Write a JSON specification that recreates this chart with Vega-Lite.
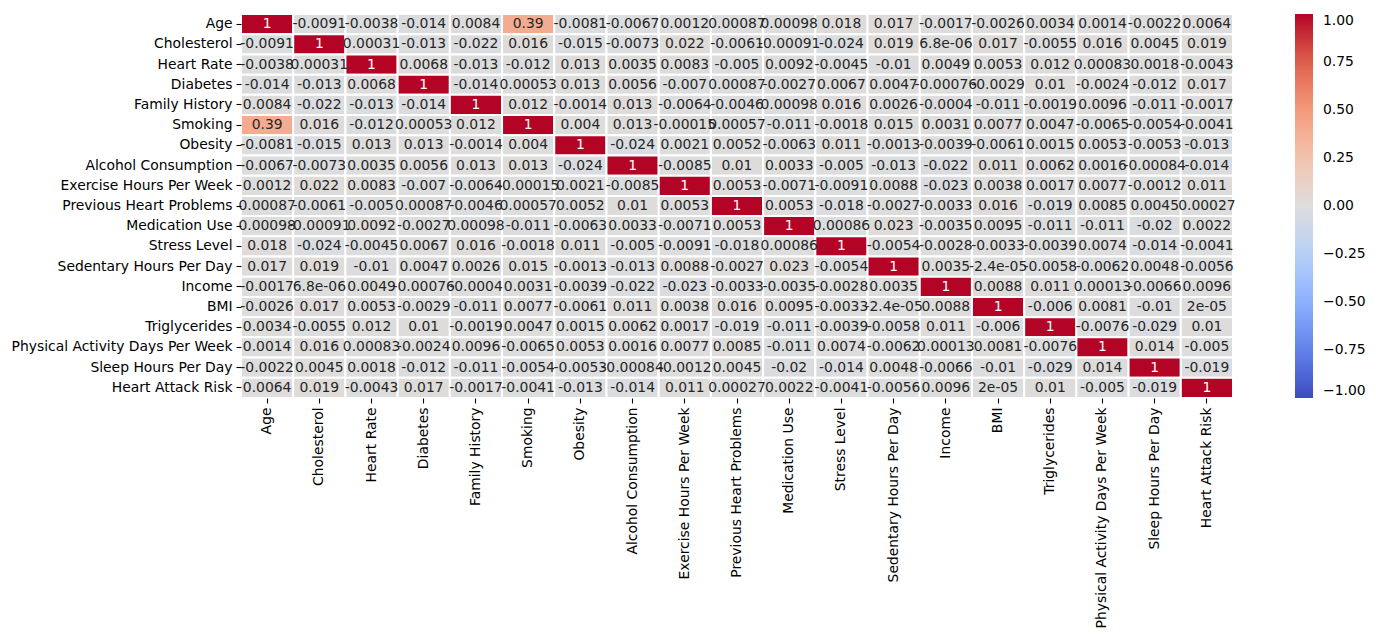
{
  "$schema": "https://vega.github.io/schema/vega-lite/v6.json",
  "autosize": {"type": "none"},
  "padding": {"left": 241, "top": 14, "right": 143, "bottom": 243},
  "width": 992,
  "height": 384,
  "background": "white",
  "config": {
    "view": {"stroke": null},
    "axis": {"labelFont": "DejaVu Sans", "labelFontSize": 13.9, "labelColor": "black", "labelLimit": 400, "tickColor": "black", "tickWidth": 1.1, "tickSize": 5, "labelPadding": 4, "domain": false, "grid": false, "title": null},
    "legend": {"labelFont": "DejaVu Sans", "labelFontSize": 13.9, "labelColor": "black"}
  },
  "data": {"values": [
{"y":"Age","x":"Age","v":1,"t":"1"},{"y":"Age","x":"Cholesterol","v":-0.0091,"t":"-0.0091"},{"y":"Age","x":"Heart Rate","v":-0.0038,"t":"-0.0038"},{"y":"Age","x":"Diabetes","v":-0.014,"t":"-0.014"},{"y":"Age","x":"Family History","v":0.0084,"t":"0.0084"},{"y":"Age","x":"Smoking","v":0.39,"t":"0.39"},{"y":"Age","x":"Obesity","v":-0.0081,"t":"-0.0081"},{"y":"Age","x":"Alcohol Consumption","v":-0.0067,"t":"-0.0067"},{"y":"Age","x":"Exercise Hours Per Week","v":0.0012,"t":"0.0012"},{"y":"Age","x":"Previous Heart Problems","v":0.00087,"t":"0.00087"},{"y":"Age","x":"Medication Use","v":0.00098,"t":"0.00098"},{"y":"Age","x":"Stress Level","v":0.018,"t":"0.018"},{"y":"Age","x":"Sedentary Hours Per Day","v":0.017,"t":"0.017"},{"y":"Age","x":"Income","v":-0.0017,"t":"-0.0017"},{"y":"Age","x":"BMI","v":-0.0026,"t":"-0.0026"},{"y":"Age","x":"Triglycerides","v":0.0034,"t":"0.0034"},{"y":"Age","x":"Physical Activity Days Per Week","v":0.0014,"t":"0.0014"},{"y":"Age","x":"Sleep Hours Per Day","v":-0.0022,"t":"-0.0022"},{"y":"Age","x":"Heart Attack Risk","v":0.0064,"t":"0.0064"},
{"y":"Cholesterol","x":"Age","v":-0.0091,"t":"-0.0091"},{"y":"Cholesterol","x":"Cholesterol","v":1,"t":"1"},{"y":"Cholesterol","x":"Heart Rate","v":0.00031,"t":"0.00031"},{"y":"Cholesterol","x":"Diabetes","v":-0.013,"t":"-0.013"},{"y":"Cholesterol","x":"Family History","v":-0.022,"t":"-0.022"},{"y":"Cholesterol","x":"Smoking","v":0.016,"t":"0.016"},{"y":"Cholesterol","x":"Obesity","v":-0.015,"t":"-0.015"},{"y":"Cholesterol","x":"Alcohol Consumption","v":-0.0073,"t":"-0.0073"},{"y":"Cholesterol","x":"Exercise Hours Per Week","v":0.022,"t":"0.022"},{"y":"Cholesterol","x":"Previous Heart Problems","v":-0.0061,"t":"-0.0061"},{"y":"Cholesterol","x":"Medication Use","v":-0.00091,"t":"-0.00091"},{"y":"Cholesterol","x":"Stress Level","v":-0.024,"t":"-0.024"},{"y":"Cholesterol","x":"Sedentary Hours Per Day","v":0.019,"t":"0.019"},{"y":"Cholesterol","x":"Income","v":6.8e-6,"t":"6.8e-06"},{"y":"Cholesterol","x":"BMI","v":0.017,"t":"0.017"},{"y":"Cholesterol","x":"Triglycerides","v":-0.0055,"t":"-0.0055"},{"y":"Cholesterol","x":"Physical Activity Days Per Week","v":0.016,"t":"0.016"},{"y":"Cholesterol","x":"Sleep Hours Per Day","v":0.0045,"t":"0.0045"},{"y":"Cholesterol","x":"Heart Attack Risk","v":0.019,"t":"0.019"},
{"y":"Heart Rate","x":"Age","v":-0.0038,"t":"-0.0038"},{"y":"Heart Rate","x":"Cholesterol","v":0.00031,"t":"0.00031"},{"y":"Heart Rate","x":"Heart Rate","v":1,"t":"1"},{"y":"Heart Rate","x":"Diabetes","v":0.0068,"t":"0.0068"},{"y":"Heart Rate","x":"Family History","v":-0.013,"t":"-0.013"},{"y":"Heart Rate","x":"Smoking","v":-0.012,"t":"-0.012"},{"y":"Heart Rate","x":"Obesity","v":0.013,"t":"0.013"},{"y":"Heart Rate","x":"Alcohol Consumption","v":0.0035,"t":"0.0035"},{"y":"Heart Rate","x":"Exercise Hours Per Week","v":0.0083,"t":"0.0083"},{"y":"Heart Rate","x":"Previous Heart Problems","v":-0.005,"t":"-0.005"},{"y":"Heart Rate","x":"Medication Use","v":0.0092,"t":"0.0092"},{"y":"Heart Rate","x":"Stress Level","v":-0.0045,"t":"-0.0045"},{"y":"Heart Rate","x":"Sedentary Hours Per Day","v":-0.01,"t":"-0.01"},{"y":"Heart Rate","x":"Income","v":0.0049,"t":"0.0049"},{"y":"Heart Rate","x":"BMI","v":0.0053,"t":"0.0053"},{"y":"Heart Rate","x":"Triglycerides","v":0.012,"t":"0.012"},{"y":"Heart Rate","x":"Physical Activity Days Per Week","v":0.00083,"t":"0.00083"},{"y":"Heart Rate","x":"Sleep Hours Per Day","v":0.0018,"t":"0.0018"},{"y":"Heart Rate","x":"Heart Attack Risk","v":-0.0043,"t":"-0.0043"},
{"y":"Diabetes","x":"Age","v":-0.014,"t":"-0.014"},{"y":"Diabetes","x":"Cholesterol","v":-0.013,"t":"-0.013"},{"y":"Diabetes","x":"Heart Rate","v":0.0068,"t":"0.0068"},{"y":"Diabetes","x":"Diabetes","v":1,"t":"1"},{"y":"Diabetes","x":"Family History","v":-0.014,"t":"-0.014"},{"y":"Diabetes","x":"Smoking","v":0.00053,"t":"0.00053"},{"y":"Diabetes","x":"Obesity","v":0.013,"t":"0.013"},{"y":"Diabetes","x":"Alcohol Consumption","v":0.0056,"t":"0.0056"},{"y":"Diabetes","x":"Exercise Hours Per Week","v":-0.007,"t":"-0.007"},{"y":"Diabetes","x":"Previous Heart Problems","v":0.00087,"t":"0.00087"},{"y":"Diabetes","x":"Medication Use","v":-0.0027,"t":"-0.0027"},{"y":"Diabetes","x":"Stress Level","v":0.0067,"t":"0.0067"},{"y":"Diabetes","x":"Sedentary Hours Per Day","v":0.0047,"t":"0.0047"},{"y":"Diabetes","x":"Income","v":-0.00076,"t":"-0.00076"},{"y":"Diabetes","x":"BMI","v":-0.0029,"t":"-0.0029"},{"y":"Diabetes","x":"Triglycerides","v":0.01,"t":"0.01"},{"y":"Diabetes","x":"Physical Activity Days Per Week","v":-0.0024,"t":"-0.0024"},{"y":"Diabetes","x":"Sleep Hours Per Day","v":-0.012,"t":"-0.012"},{"y":"Diabetes","x":"Heart Attack Risk","v":0.017,"t":"0.017"},
{"y":"Family History","x":"Age","v":0.0084,"t":"0.0084"},{"y":"Family History","x":"Cholesterol","v":-0.022,"t":"-0.022"},{"y":"Family History","x":"Heart Rate","v":-0.013,"t":"-0.013"},{"y":"Family History","x":"Diabetes","v":-0.014,"t":"-0.014"},{"y":"Family History","x":"Family History","v":1,"t":"1"},{"y":"Family History","x":"Smoking","v":0.012,"t":"0.012"},{"y":"Family History","x":"Obesity","v":-0.0014,"t":"-0.0014"},{"y":"Family History","x":"Alcohol Consumption","v":0.013,"t":"0.013"},{"y":"Family History","x":"Exercise Hours Per Week","v":-0.0064,"t":"-0.0064"},{"y":"Family History","x":"Previous Heart Problems","v":-0.0046,"t":"-0.0046"},{"y":"Family History","x":"Medication Use","v":0.00098,"t":"0.00098"},{"y":"Family History","x":"Stress Level","v":0.016,"t":"0.016"},{"y":"Family History","x":"Sedentary Hours Per Day","v":0.0026,"t":"0.0026"},{"y":"Family History","x":"Income","v":-0.0004,"t":"-0.0004"},{"y":"Family History","x":"BMI","v":-0.011,"t":"-0.011"},{"y":"Family History","x":"Triglycerides","v":-0.0019,"t":"-0.0019"},{"y":"Family History","x":"Physical Activity Days Per Week","v":0.0096,"t":"0.0096"},{"y":"Family History","x":"Sleep Hours Per Day","v":-0.011,"t":"-0.011"},{"y":"Family History","x":"Heart Attack Risk","v":-0.0017,"t":"-0.0017"},
{"y":"Smoking","x":"Age","v":0.39,"t":"0.39"},{"y":"Smoking","x":"Cholesterol","v":0.016,"t":"0.016"},{"y":"Smoking","x":"Heart Rate","v":-0.012,"t":"-0.012"},{"y":"Smoking","x":"Diabetes","v":0.00053,"t":"0.00053"},{"y":"Smoking","x":"Family History","v":0.012,"t":"0.012"},{"y":"Smoking","x":"Smoking","v":1,"t":"1"},{"y":"Smoking","x":"Obesity","v":0.004,"t":"0.004"},{"y":"Smoking","x":"Alcohol Consumption","v":0.013,"t":"0.013"},{"y":"Smoking","x":"Exercise Hours Per Week","v":-0.00015,"t":"-0.00015"},{"y":"Smoking","x":"Previous Heart Problems","v":0.00057,"t":"0.00057"},{"y":"Smoking","x":"Medication Use","v":-0.011,"t":"-0.011"},{"y":"Smoking","x":"Stress Level","v":-0.0018,"t":"-0.0018"},{"y":"Smoking","x":"Sedentary Hours Per Day","v":0.015,"t":"0.015"},{"y":"Smoking","x":"Income","v":0.0031,"t":"0.0031"},{"y":"Smoking","x":"BMI","v":0.0077,"t":"0.0077"},{"y":"Smoking","x":"Triglycerides","v":0.0047,"t":"0.0047"},{"y":"Smoking","x":"Physical Activity Days Per Week","v":-0.0065,"t":"-0.0065"},{"y":"Smoking","x":"Sleep Hours Per Day","v":-0.0054,"t":"-0.0054"},{"y":"Smoking","x":"Heart Attack Risk","v":-0.0041,"t":"-0.0041"},
{"y":"Obesity","x":"Age","v":-0.0081,"t":"-0.0081"},{"y":"Obesity","x":"Cholesterol","v":-0.015,"t":"-0.015"},{"y":"Obesity","x":"Heart Rate","v":0.013,"t":"0.013"},{"y":"Obesity","x":"Diabetes","v":0.013,"t":"0.013"},{"y":"Obesity","x":"Family History","v":-0.0014,"t":"-0.0014"},{"y":"Obesity","x":"Smoking","v":0.004,"t":"0.004"},{"y":"Obesity","x":"Obesity","v":1,"t":"1"},{"y":"Obesity","x":"Alcohol Consumption","v":-0.024,"t":"-0.024"},{"y":"Obesity","x":"Exercise Hours Per Week","v":0.0021,"t":"0.0021"},{"y":"Obesity","x":"Previous Heart Problems","v":0.0052,"t":"0.0052"},{"y":"Obesity","x":"Medication Use","v":-0.0063,"t":"-0.0063"},{"y":"Obesity","x":"Stress Level","v":0.011,"t":"0.011"},{"y":"Obesity","x":"Sedentary Hours Per Day","v":-0.0013,"t":"-0.0013"},{"y":"Obesity","x":"Income","v":-0.0039,"t":"-0.0039"},{"y":"Obesity","x":"BMI","v":-0.0061,"t":"-0.0061"},{"y":"Obesity","x":"Triglycerides","v":0.0015,"t":"0.0015"},{"y":"Obesity","x":"Physical Activity Days Per Week","v":0.0053,"t":"0.0053"},{"y":"Obesity","x":"Sleep Hours Per Day","v":-0.0053,"t":"-0.0053"},{"y":"Obesity","x":"Heart Attack Risk","v":-0.013,"t":"-0.013"},
{"y":"Alcohol Consumption","x":"Age","v":-0.0067,"t":"-0.0067"},{"y":"Alcohol Consumption","x":"Cholesterol","v":-0.0073,"t":"-0.0073"},{"y":"Alcohol Consumption","x":"Heart Rate","v":0.0035,"t":"0.0035"},{"y":"Alcohol Consumption","x":"Diabetes","v":0.0056,"t":"0.0056"},{"y":"Alcohol Consumption","x":"Family History","v":0.013,"t":"0.013"},{"y":"Alcohol Consumption","x":"Smoking","v":0.013,"t":"0.013"},{"y":"Alcohol Consumption","x":"Obesity","v":-0.024,"t":"-0.024"},{"y":"Alcohol Consumption","x":"Alcohol Consumption","v":1,"t":"1"},{"y":"Alcohol Consumption","x":"Exercise Hours Per Week","v":-0.0085,"t":"-0.0085"},{"y":"Alcohol Consumption","x":"Previous Heart Problems","v":0.01,"t":"0.01"},{"y":"Alcohol Consumption","x":"Medication Use","v":0.0033,"t":"0.0033"},{"y":"Alcohol Consumption","x":"Stress Level","v":-0.005,"t":"-0.005"},{"y":"Alcohol Consumption","x":"Sedentary Hours Per Day","v":-0.013,"t":"-0.013"},{"y":"Alcohol Consumption","x":"Income","v":-0.022,"t":"-0.022"},{"y":"Alcohol Consumption","x":"BMI","v":0.011,"t":"0.011"},{"y":"Alcohol Consumption","x":"Triglycerides","v":0.0062,"t":"0.0062"},{"y":"Alcohol Consumption","x":"Physical Activity Days Per Week","v":0.0016,"t":"0.0016"},{"y":"Alcohol Consumption","x":"Sleep Hours Per Day","v":-0.00084,"t":"-0.00084"},{"y":"Alcohol Consumption","x":"Heart Attack Risk","v":-0.014,"t":"-0.014"},
{"y":"Exercise Hours Per Week","x":"Age","v":0.0012,"t":"0.0012"},{"y":"Exercise Hours Per Week","x":"Cholesterol","v":0.022,"t":"0.022"},{"y":"Exercise Hours Per Week","x":"Heart Rate","v":0.0083,"t":"0.0083"},{"y":"Exercise Hours Per Week","x":"Diabetes","v":-0.007,"t":"-0.007"},{"y":"Exercise Hours Per Week","x":"Family History","v":-0.0064,"t":"-0.0064"},{"y":"Exercise Hours Per Week","x":"Smoking","v":-0.00015,"t":"-0.00015"},{"y":"Exercise Hours Per Week","x":"Obesity","v":0.0021,"t":"0.0021"},{"y":"Exercise Hours Per Week","x":"Alcohol Consumption","v":-0.0085,"t":"-0.0085"},{"y":"Exercise Hours Per Week","x":"Exercise Hours Per Week","v":1,"t":"1"},{"y":"Exercise Hours Per Week","x":"Previous Heart Problems","v":0.0053,"t":"0.0053"},{"y":"Exercise Hours Per Week","x":"Medication Use","v":-0.0071,"t":"-0.0071"},{"y":"Exercise Hours Per Week","x":"Stress Level","v":-0.0091,"t":"-0.0091"},{"y":"Exercise Hours Per Week","x":"Sedentary Hours Per Day","v":0.0088,"t":"0.0088"},{"y":"Exercise Hours Per Week","x":"Income","v":-0.023,"t":"-0.023"},{"y":"Exercise Hours Per Week","x":"BMI","v":0.0038,"t":"0.0038"},{"y":"Exercise Hours Per Week","x":"Triglycerides","v":0.0017,"t":"0.0017"},{"y":"Exercise Hours Per Week","x":"Physical Activity Days Per Week","v":0.0077,"t":"0.0077"},{"y":"Exercise Hours Per Week","x":"Sleep Hours Per Day","v":-0.0012,"t":"-0.0012"},{"y":"Exercise Hours Per Week","x":"Heart Attack Risk","v":0.011,"t":"0.011"},
{"y":"Previous Heart Problems","x":"Age","v":0.00087,"t":"0.00087"},{"y":"Previous Heart Problems","x":"Cholesterol","v":-0.0061,"t":"-0.0061"},{"y":"Previous Heart Problems","x":"Heart Rate","v":-0.005,"t":"-0.005"},{"y":"Previous Heart Problems","x":"Diabetes","v":0.00087,"t":"0.00087"},{"y":"Previous Heart Problems","x":"Family History","v":-0.0046,"t":"-0.0046"},{"y":"Previous Heart Problems","x":"Smoking","v":0.00057,"t":"0.00057"},{"y":"Previous Heart Problems","x":"Obesity","v":0.0052,"t":"0.0052"},{"y":"Previous Heart Problems","x":"Alcohol Consumption","v":0.01,"t":"0.01"},{"y":"Previous Heart Problems","x":"Exercise Hours Per Week","v":0.0053,"t":"0.0053"},{"y":"Previous Heart Problems","x":"Previous Heart Problems","v":1,"t":"1"},{"y":"Previous Heart Problems","x":"Medication Use","v":0.0053,"t":"0.0053"},{"y":"Previous Heart Problems","x":"Stress Level","v":-0.018,"t":"-0.018"},{"y":"Previous Heart Problems","x":"Sedentary Hours Per Day","v":-0.0027,"t":"-0.0027"},{"y":"Previous Heart Problems","x":"Income","v":-0.0033,"t":"-0.0033"},{"y":"Previous Heart Problems","x":"BMI","v":0.016,"t":"0.016"},{"y":"Previous Heart Problems","x":"Triglycerides","v":-0.019,"t":"-0.019"},{"y":"Previous Heart Problems","x":"Physical Activity Days Per Week","v":0.0085,"t":"0.0085"},{"y":"Previous Heart Problems","x":"Sleep Hours Per Day","v":0.0045,"t":"0.0045"},{"y":"Previous Heart Problems","x":"Heart Attack Risk","v":0.00027,"t":"0.00027"},
{"y":"Medication Use","x":"Age","v":0.00098,"t":"0.00098"},{"y":"Medication Use","x":"Cholesterol","v":-0.00091,"t":"-0.00091"},{"y":"Medication Use","x":"Heart Rate","v":0.0092,"t":"0.0092"},{"y":"Medication Use","x":"Diabetes","v":-0.0027,"t":"-0.0027"},{"y":"Medication Use","x":"Family History","v":0.00098,"t":"0.00098"},{"y":"Medication Use","x":"Smoking","v":-0.011,"t":"-0.011"},{"y":"Medication Use","x":"Obesity","v":-0.0063,"t":"-0.0063"},{"y":"Medication Use","x":"Alcohol Consumption","v":0.0033,"t":"0.0033"},{"y":"Medication Use","x":"Exercise Hours Per Week","v":-0.0071,"t":"-0.0071"},{"y":"Medication Use","x":"Previous Heart Problems","v":0.0053,"t":"0.0053"},{"y":"Medication Use","x":"Medication Use","v":1,"t":"1"},{"y":"Medication Use","x":"Stress Level","v":0.00086,"t":"0.00086"},{"y":"Medication Use","x":"Sedentary Hours Per Day","v":0.023,"t":"0.023"},{"y":"Medication Use","x":"Income","v":-0.0035,"t":"-0.0035"},{"y":"Medication Use","x":"BMI","v":0.0095,"t":"0.0095"},{"y":"Medication Use","x":"Triglycerides","v":-0.011,"t":"-0.011"},{"y":"Medication Use","x":"Physical Activity Days Per Week","v":-0.011,"t":"-0.011"},{"y":"Medication Use","x":"Sleep Hours Per Day","v":-0.02,"t":"-0.02"},{"y":"Medication Use","x":"Heart Attack Risk","v":0.0022,"t":"0.0022"},
{"y":"Stress Level","x":"Age","v":0.018,"t":"0.018"},{"y":"Stress Level","x":"Cholesterol","v":-0.024,"t":"-0.024"},{"y":"Stress Level","x":"Heart Rate","v":-0.0045,"t":"-0.0045"},{"y":"Stress Level","x":"Diabetes","v":0.0067,"t":"0.0067"},{"y":"Stress Level","x":"Family History","v":0.016,"t":"0.016"},{"y":"Stress Level","x":"Smoking","v":-0.0018,"t":"-0.0018"},{"y":"Stress Level","x":"Obesity","v":0.011,"t":"0.011"},{"y":"Stress Level","x":"Alcohol Consumption","v":-0.005,"t":"-0.005"},{"y":"Stress Level","x":"Exercise Hours Per Week","v":-0.0091,"t":"-0.0091"},{"y":"Stress Level","x":"Previous Heart Problems","v":-0.018,"t":"-0.018"},{"y":"Stress Level","x":"Medication Use","v":0.00086,"t":"0.00086"},{"y":"Stress Level","x":"Stress Level","v":1,"t":"1"},{"y":"Stress Level","x":"Sedentary Hours Per Day","v":-0.0054,"t":"-0.0054"},{"y":"Stress Level","x":"Income","v":-0.0028,"t":"-0.0028"},{"y":"Stress Level","x":"BMI","v":-0.0033,"t":"-0.0033"},{"y":"Stress Level","x":"Triglycerides","v":-0.0039,"t":"-0.0039"},{"y":"Stress Level","x":"Physical Activity Days Per Week","v":0.0074,"t":"0.0074"},{"y":"Stress Level","x":"Sleep Hours Per Day","v":-0.014,"t":"-0.014"},{"y":"Stress Level","x":"Heart Attack Risk","v":-0.0041,"t":"-0.0041"},
{"y":"Sedentary Hours Per Day","x":"Age","v":0.017,"t":"0.017"},{"y":"Sedentary Hours Per Day","x":"Cholesterol","v":0.019,"t":"0.019"},{"y":"Sedentary Hours Per Day","x":"Heart Rate","v":-0.01,"t":"-0.01"},{"y":"Sedentary Hours Per Day","x":"Diabetes","v":0.0047,"t":"0.0047"},{"y":"Sedentary Hours Per Day","x":"Family History","v":0.0026,"t":"0.0026"},{"y":"Sedentary Hours Per Day","x":"Smoking","v":0.015,"t":"0.015"},{"y":"Sedentary Hours Per Day","x":"Obesity","v":-0.0013,"t":"-0.0013"},{"y":"Sedentary Hours Per Day","x":"Alcohol Consumption","v":-0.013,"t":"-0.013"},{"y":"Sedentary Hours Per Day","x":"Exercise Hours Per Week","v":0.0088,"t":"0.0088"},{"y":"Sedentary Hours Per Day","x":"Previous Heart Problems","v":-0.0027,"t":"-0.0027"},{"y":"Sedentary Hours Per Day","x":"Medication Use","v":0.023,"t":"0.023"},{"y":"Sedentary Hours Per Day","x":"Stress Level","v":-0.0054,"t":"-0.0054"},{"y":"Sedentary Hours Per Day","x":"Sedentary Hours Per Day","v":1,"t":"1"},{"y":"Sedentary Hours Per Day","x":"Income","v":0.0035,"t":"0.0035"},{"y":"Sedentary Hours Per Day","x":"BMI","v":-2.4e-5,"t":"-2.4e-05"},{"y":"Sedentary Hours Per Day","x":"Triglycerides","v":-0.0058,"t":"-0.0058"},{"y":"Sedentary Hours Per Day","x":"Physical Activity Days Per Week","v":-0.0062,"t":"-0.0062"},{"y":"Sedentary Hours Per Day","x":"Sleep Hours Per Day","v":0.0048,"t":"0.0048"},{"y":"Sedentary Hours Per Day","x":"Heart Attack Risk","v":-0.0056,"t":"-0.0056"},
{"y":"Income","x":"Age","v":-0.0017,"t":"-0.0017"},{"y":"Income","x":"Cholesterol","v":6.8e-6,"t":"6.8e-06"},{"y":"Income","x":"Heart Rate","v":0.0049,"t":"0.0049"},{"y":"Income","x":"Diabetes","v":-0.00076,"t":"-0.00076"},{"y":"Income","x":"Family History","v":-0.0004,"t":"-0.0004"},{"y":"Income","x":"Smoking","v":0.0031,"t":"0.0031"},{"y":"Income","x":"Obesity","v":-0.0039,"t":"-0.0039"},{"y":"Income","x":"Alcohol Consumption","v":-0.022,"t":"-0.022"},{"y":"Income","x":"Exercise Hours Per Week","v":-0.023,"t":"-0.023"},{"y":"Income","x":"Previous Heart Problems","v":-0.0033,"t":"-0.0033"},{"y":"Income","x":"Medication Use","v":-0.0035,"t":"-0.0035"},{"y":"Income","x":"Stress Level","v":-0.0028,"t":"-0.0028"},{"y":"Income","x":"Sedentary Hours Per Day","v":0.0035,"t":"0.0035"},{"y":"Income","x":"Income","v":1,"t":"1"},{"y":"Income","x":"BMI","v":0.0088,"t":"0.0088"},{"y":"Income","x":"Triglycerides","v":0.011,"t":"0.011"},{"y":"Income","x":"Physical Activity Days Per Week","v":0.00013,"t":"0.00013"},{"y":"Income","x":"Sleep Hours Per Day","v":-0.0066,"t":"-0.0066"},{"y":"Income","x":"Heart Attack Risk","v":0.0096,"t":"0.0096"},
{"y":"BMI","x":"Age","v":-0.0026,"t":"-0.0026"},{"y":"BMI","x":"Cholesterol","v":0.017,"t":"0.017"},{"y":"BMI","x":"Heart Rate","v":0.0053,"t":"0.0053"},{"y":"BMI","x":"Diabetes","v":-0.0029,"t":"-0.0029"},{"y":"BMI","x":"Family History","v":-0.011,"t":"-0.011"},{"y":"BMI","x":"Smoking","v":0.0077,"t":"0.0077"},{"y":"BMI","x":"Obesity","v":-0.0061,"t":"-0.0061"},{"y":"BMI","x":"Alcohol Consumption","v":0.011,"t":"0.011"},{"y":"BMI","x":"Exercise Hours Per Week","v":0.0038,"t":"0.0038"},{"y":"BMI","x":"Previous Heart Problems","v":0.016,"t":"0.016"},{"y":"BMI","x":"Medication Use","v":0.0095,"t":"0.0095"},{"y":"BMI","x":"Stress Level","v":-0.0033,"t":"-0.0033"},{"y":"BMI","x":"Sedentary Hours Per Day","v":-2.4e-5,"t":"-2.4e-05"},{"y":"BMI","x":"Income","v":0.0088,"t":"0.0088"},{"y":"BMI","x":"BMI","v":1,"t":"1"},{"y":"BMI","x":"Triglycerides","v":-0.006,"t":"-0.006"},{"y":"BMI","x":"Physical Activity Days Per Week","v":0.0081,"t":"0.0081"},{"y":"BMI","x":"Sleep Hours Per Day","v":-0.01,"t":"-0.01"},{"y":"BMI","x":"Heart Attack Risk","v":2e-5,"t":"2e-05"},
{"y":"Triglycerides","x":"Age","v":0.0034,"t":"0.0034"},{"y":"Triglycerides","x":"Cholesterol","v":-0.0055,"t":"-0.0055"},{"y":"Triglycerides","x":"Heart Rate","v":0.012,"t":"0.012"},{"y":"Triglycerides","x":"Diabetes","v":0.01,"t":"0.01"},{"y":"Triglycerides","x":"Family History","v":-0.0019,"t":"-0.0019"},{"y":"Triglycerides","x":"Smoking","v":0.0047,"t":"0.0047"},{"y":"Triglycerides","x":"Obesity","v":0.0015,"t":"0.0015"},{"y":"Triglycerides","x":"Alcohol Consumption","v":0.0062,"t":"0.0062"},{"y":"Triglycerides","x":"Exercise Hours Per Week","v":0.0017,"t":"0.0017"},{"y":"Triglycerides","x":"Previous Heart Problems","v":-0.019,"t":"-0.019"},{"y":"Triglycerides","x":"Medication Use","v":-0.011,"t":"-0.011"},{"y":"Triglycerides","x":"Stress Level","v":-0.0039,"t":"-0.0039"},{"y":"Triglycerides","x":"Sedentary Hours Per Day","v":-0.0058,"t":"-0.0058"},{"y":"Triglycerides","x":"Income","v":0.011,"t":"0.011"},{"y":"Triglycerides","x":"BMI","v":-0.006,"t":"-0.006"},{"y":"Triglycerides","x":"Triglycerides","v":1,"t":"1"},{"y":"Triglycerides","x":"Physical Activity Days Per Week","v":-0.0076,"t":"-0.0076"},{"y":"Triglycerides","x":"Sleep Hours Per Day","v":-0.029,"t":"-0.029"},{"y":"Triglycerides","x":"Heart Attack Risk","v":0.01,"t":"0.01"},
{"y":"Physical Activity Days Per Week","x":"Age","v":0.0014,"t":"0.0014"},{"y":"Physical Activity Days Per Week","x":"Cholesterol","v":0.016,"t":"0.016"},{"y":"Physical Activity Days Per Week","x":"Heart Rate","v":0.00083,"t":"0.00083"},{"y":"Physical Activity Days Per Week","x":"Diabetes","v":-0.0024,"t":"-0.0024"},{"y":"Physical Activity Days Per Week","x":"Family History","v":0.0096,"t":"0.0096"},{"y":"Physical Activity Days Per Week","x":"Smoking","v":-0.0065,"t":"-0.0065"},{"y":"Physical Activity Days Per Week","x":"Obesity","v":0.0053,"t":"0.0053"},{"y":"Physical Activity Days Per Week","x":"Alcohol Consumption","v":0.0016,"t":"0.0016"},{"y":"Physical Activity Days Per Week","x":"Exercise Hours Per Week","v":0.0077,"t":"0.0077"},{"y":"Physical Activity Days Per Week","x":"Previous Heart Problems","v":0.0085,"t":"0.0085"},{"y":"Physical Activity Days Per Week","x":"Medication Use","v":-0.011,"t":"-0.011"},{"y":"Physical Activity Days Per Week","x":"Stress Level","v":0.0074,"t":"0.0074"},{"y":"Physical Activity Days Per Week","x":"Sedentary Hours Per Day","v":-0.0062,"t":"-0.0062"},{"y":"Physical Activity Days Per Week","x":"Income","v":0.00013,"t":"0.00013"},{"y":"Physical Activity Days Per Week","x":"BMI","v":0.0081,"t":"0.0081"},{"y":"Physical Activity Days Per Week","x":"Triglycerides","v":-0.0076,"t":"-0.0076"},{"y":"Physical Activity Days Per Week","x":"Physical Activity Days Per Week","v":1,"t":"1"},{"y":"Physical Activity Days Per Week","x":"Sleep Hours Per Day","v":0.014,"t":"0.014"},{"y":"Physical Activity Days Per Week","x":"Heart Attack Risk","v":-0.005,"t":"-0.005"},
{"y":"Sleep Hours Per Day","x":"Age","v":-0.0022,"t":"-0.0022"},{"y":"Sleep Hours Per Day","x":"Cholesterol","v":0.0045,"t":"0.0045"},{"y":"Sleep Hours Per Day","x":"Heart Rate","v":0.0018,"t":"0.0018"},{"y":"Sleep Hours Per Day","x":"Diabetes","v":-0.012,"t":"-0.012"},{"y":"Sleep Hours Per Day","x":"Family History","v":-0.011,"t":"-0.011"},{"y":"Sleep Hours Per Day","x":"Smoking","v":-0.0054,"t":"-0.0054"},{"y":"Sleep Hours Per Day","x":"Obesity","v":-0.0053,"t":"-0.0053"},{"y":"Sleep Hours Per Day","x":"Alcohol Consumption","v":-0.00084,"t":"-0.00084"},{"y":"Sleep Hours Per Day","x":"Exercise Hours Per Week","v":-0.0012,"t":"-0.0012"},{"y":"Sleep Hours Per Day","x":"Previous Heart Problems","v":0.0045,"t":"0.0045"},{"y":"Sleep Hours Per Day","x":"Medication Use","v":-0.02,"t":"-0.02"},{"y":"Sleep Hours Per Day","x":"Stress Level","v":-0.014,"t":"-0.014"},{"y":"Sleep Hours Per Day","x":"Sedentary Hours Per Day","v":0.0048,"t":"0.0048"},{"y":"Sleep Hours Per Day","x":"Income","v":-0.0066,"t":"-0.0066"},{"y":"Sleep Hours Per Day","x":"BMI","v":-0.01,"t":"-0.01"},{"y":"Sleep Hours Per Day","x":"Triglycerides","v":-0.029,"t":"-0.029"},{"y":"Sleep Hours Per Day","x":"Physical Activity Days Per Week","v":0.014,"t":"0.014"},{"y":"Sleep Hours Per Day","x":"Sleep Hours Per Day","v":1,"t":"1"},{"y":"Sleep Hours Per Day","x":"Heart Attack Risk","v":-0.019,"t":"-0.019"},
{"y":"Heart Attack Risk","x":"Age","v":0.0064,"t":"0.0064"},{"y":"Heart Attack Risk","x":"Cholesterol","v":0.019,"t":"0.019"},{"y":"Heart Attack Risk","x":"Heart Rate","v":-0.0043,"t":"-0.0043"},{"y":"Heart Attack Risk","x":"Diabetes","v":0.017,"t":"0.017"},{"y":"Heart Attack Risk","x":"Family History","v":-0.0017,"t":"-0.0017"},{"y":"Heart Attack Risk","x":"Smoking","v":-0.0041,"t":"-0.0041"},{"y":"Heart Attack Risk","x":"Obesity","v":-0.013,"t":"-0.013"},{"y":"Heart Attack Risk","x":"Alcohol Consumption","v":-0.014,"t":"-0.014"},{"y":"Heart Attack Risk","x":"Exercise Hours Per Week","v":0.011,"t":"0.011"},{"y":"Heart Attack Risk","x":"Previous Heart Problems","v":0.00027,"t":"0.00027"},{"y":"Heart Attack Risk","x":"Medication Use","v":0.0022,"t":"0.0022"},{"y":"Heart Attack Risk","x":"Stress Level","v":-0.0041,"t":"-0.0041"},{"y":"Heart Attack Risk","x":"Sedentary Hours Per Day","v":-0.0056,"t":"-0.0056"},{"y":"Heart Attack Risk","x":"Income","v":0.0096,"t":"0.0096"},{"y":"Heart Attack Risk","x":"BMI","v":2e-5,"t":"2e-05"},{"y":"Heart Attack Risk","x":"Triglycerides","v":0.01,"t":"0.01"},{"y":"Heart Attack Risk","x":"Physical Activity Days Per Week","v":-0.005,"t":"-0.005"},{"y":"Heart Attack Risk","x":"Sleep Hours Per Day","v":-0.019,"t":"-0.019"},{"y":"Heart Attack Risk","x":"Heart Attack Risk","v":1,"t":"1"}
  ]},
  "encoding": {
    "x": {"field": "x", "type": "nominal", "sort": ["Age","Cholesterol","Heart Rate","Diabetes","Family History","Smoking","Obesity","Alcohol Consumption","Exercise Hours Per Week","Previous Heart Problems","Medication Use","Stress Level","Sedentary Hours Per Day","Income","BMI","Triglycerides","Physical Activity Days Per Week","Sleep Hours Per Day","Heart Attack Risk"], "scale": {"paddingInner": 0, "paddingOuter": 0}, "axis": {"labelAngle": -90, "orient": "bottom"}},
    "y": {"field": "y", "type": "nominal", "sort": ["Age","Cholesterol","Heart Rate","Diabetes","Family History","Smoking","Obesity","Alcohol Consumption","Exercise Hours Per Week","Previous Heart Problems","Medication Use","Stress Level","Sedentary Hours Per Day","Income","BMI","Triglycerides","Physical Activity Days Per Week","Sleep Hours Per Day","Heart Attack Risk"], "scale": {"paddingInner": 0, "paddingOuter": 0}}
  },
  "layer": [
    {
      "mark": {"type": "rect", "stroke": "white", "strokeWidth": 2},
      "encoding": {
        "color": {
          "field": "v", "type": "quantitative",
          "scale": {"domain": [-1,-0.75,-0.5,-0.25,0,0.25,0.5,0.75,1], "range": ["#3b4cc0","#6282ea","#8db0fe","#b8d0f9","#dddddd","#f5c4ad","#f49a7b","#de604d","#b40426"], "interpolate": "rgb"},
          "legend": {"title": null, "orient": "right", "offset": 62, "direction": "vertical", "gradientLength": 384, "gradientThickness": 18, "gradientStrokeWidth": 0, "values": [-1,-0.75,-0.5,-0.25,0,0.25,0.5,0.75,1], "format": ".2f", "labelOffset": 10, "labelOverlap": false, "labelBaseline": "middle"}
        }
      }
    },
    {
      "mark": {"type": "text", "font": "DejaVu Sans", "fontSize": 13.9, "align": "center", "baseline": "middle"},
      "encoding": {
        "text": {"field": "t", "type": "nominal"},
        "color": {"condition": {"test": "datum.v > 0.5", "value": "white"}, "value": "#262626"}
      }
    }
  ]
}
